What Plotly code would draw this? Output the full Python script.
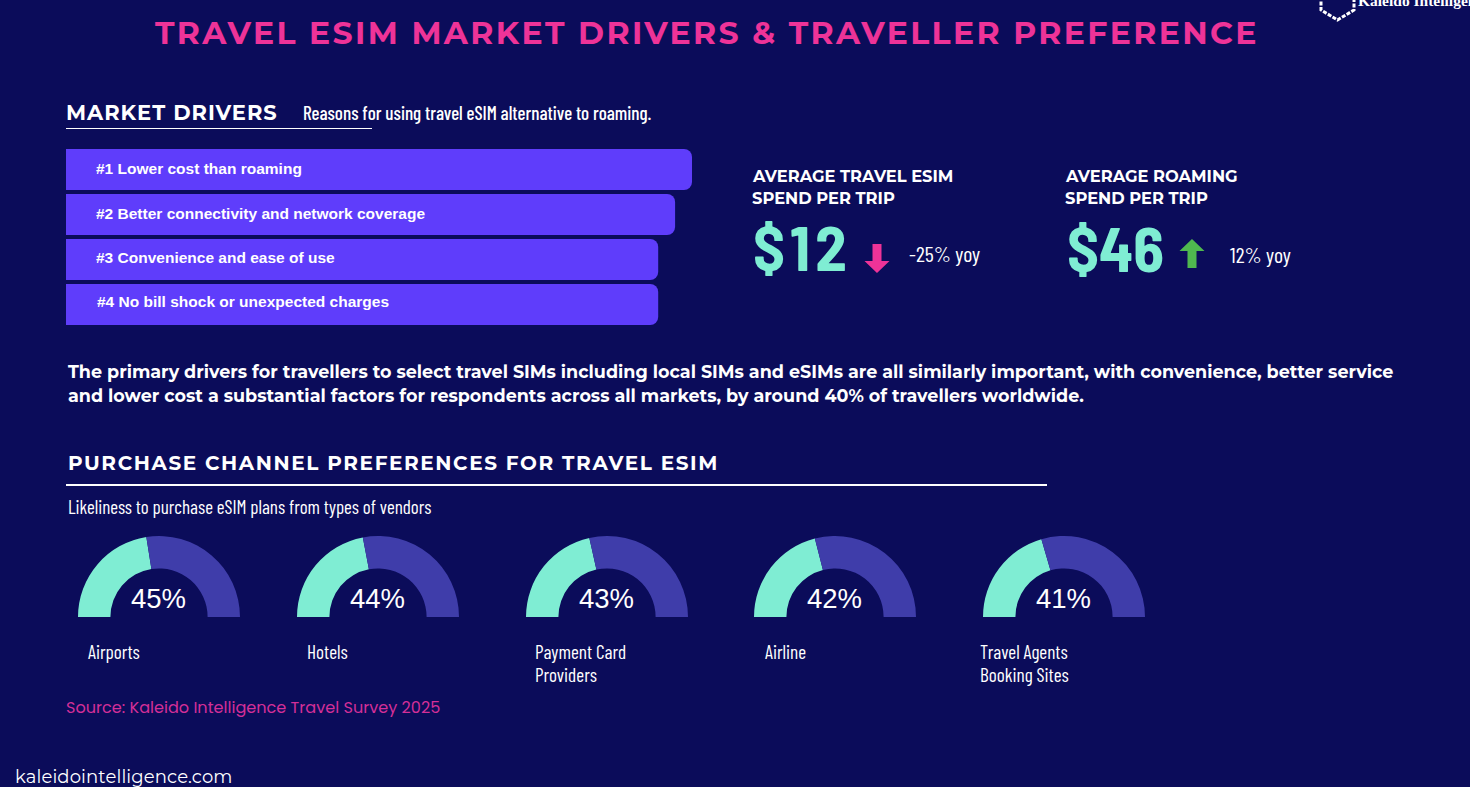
import plotly.graph_objects as go

W, H = 1470, 787
BG = "#0B0C5A"
TEAL = "#7FEDD3"
INDIGO = "#3F3DAA"
VIOLET = "#5F3DFB"
PINK = "#EE3398"
SOURCE = "#D42F98"
GREEN = "#4FB84F"
WHITE = "#FFFFFF"

drivers = ["#1 Lower cost than roaming", "#2 Better connectivity and network coverage",
           "#3 Convenience and ease of use", "#4 No bill shock or unexpected charges"]
driver_scores = [100, 97.3, 94.6, 94.6]
channels = ["Airports", "Hotels", "Payment Card<br>Providers", "Airline", "Travel Agents<br>Booking Sites"]
channel_pct = [45, 44, 43, 42, 41]
esim_spend = 12
esim_yoy = -25
roaming_spend = 46
roaming_yoy = 12


def X(px):
    return px / W


def Y(py):
    return 1 - py / H


HEAD = "Montserrat, Inter, sans-serif"
COND = "Barlow Condensed, Liberation Sans Narrow, Liberation Sans, sans-serif"
BIG = "Barlow Semi Condensed, Barlow, Liberation Sans, sans-serif"
SANS = "Liberation Sans, Arial, sans-serif"
POP = "Poppins, Open Sans, sans-serif"

fig = go.Figure()

fig.add_trace(go.Bar(
    y=drivers, x=driver_scores, orientation="h", marker=dict(color=VIOLET, line_width=0),
    hoverinfo="skip", showlegend=False, xaxis="x", yaxis="y",
))

annotations = []
spacing = {}


def text(px, py, s, size, color=WHITE, family=HEAD, weight=400, anchor="left", track=0):
    annotations.append(dict(
        x=X(px - 2 if anchor == "left" else px), y=Y(py), xref="paper", yref="paper", text=s, showarrow=False,
        xanchor=anchor, yanchor="middle", align="left",
        font=dict(size=size, color=color, family=family, weight=weight),
    ))
    if track:
        spacing[s.replace("&amp;", "&")] = track


text(155, 33, "TRAVEL ESIM MARKET DRIVERS &amp; TRAVELLER PREFERENCE", 31.5, PINK, weight=700, track=2.35)
text(66, 112, "MARKET DRIVERS", 21, weight=700, track=1)
text(303, 112, "Reasons for using travel eSIM alternative to roaming.", 19, family=COND, weight=500)

driver_x = [96, 96, 96, 97]
driver_y = [168.5, 213, 257.5, 301.5]
for name, dx, dy in zip(drivers, driver_x, driver_y):
    text(dx, dy, name, 15.5, family=SANS, weight=700)

text(752, 176, "AVERAGE TRAVEL ESIM", 16.3, weight=700)
text(752, 198, "SPEND PER TRIP", 16.3, weight=700)
text(1065, 176, "AVERAGE ROAMING", 16.3, weight=700)
text(1065, 198, "SPEND PER TRIP", 16.3, weight=700)

text(753, 246, f"${esim_spend}", 63, TEAL, family=BIG, weight=700, track=5)
text(1067, 247, f"${roaming_spend}", 63, TEAL, family=BIG, weight=700)
text(909, 253, f"{esim_yoy}% yoy", 22, family=COND)
text(1230, 254, f"{roaming_yoy}% yoy", 22, family=COND)

text(68, 372, "The primary drivers for travellers to select travel SIMs including local SIMs and eSIMs are all similarly important, with convenience, better service", 17.55, weight=700)
text(68, 395.5, "and lower cost a substantial factors for respondents across all markets, by around 40% of travellers worldwide.", 17.55, weight=700)

text(68, 463, "PURCHASE CHANNEL PREFERENCES FOR TRAVEL ESIM", 20, weight=700, track=1.6)
text(68, 507, "Likeliness to purchase eSIM plans from types of vendors", 19.1, family=COND)

centers = [159, 378, 607, 835, 1064]
label_x = [88, 307, 535, 765, 980]
R = 81
for name, pct, cx, lx in zip(channels, channel_pct, centers, label_x):
    fig.add_trace(go.Pie(
        values=[pct, 100 - pct, 100], sort=False, direction="clockwise", rotation=270,
        hole=0.6, textinfo="none", hoverinfo="skip", showlegend=False,
        marker=dict(colors=[TEAL, INDIGO, "rgba(0,0,0,0)"], line=dict(width=0)),
        domain=dict(x=[X(cx - R), X(cx + R)], y=[Y(617 + R), Y(617 - R)]),
    ))
    text(cx - 1, 598, f"{pct}%", 27.5, family=SANS, anchor="center")
    for i, part in enumerate(name.split("<br>")):
        text(lx, 651 + 23 * i, part, 19.3, family=COND, weight=400)

text(66, 707, "Source: Kaleido Intelligence Travel Survey 2025", 16.1, SOURCE, family=POP)
text(15, 776.5, "kaleidointelligence.com", 18, family=HEAD, weight=400, track=0.12)
text(1358, 0, "Kaleido Intelligence", 15.5, family="Liberation Serif, serif", weight=700)


def path(points):
    return "M " + " L ".join(f"{X(a):.5f},{Y(b):.5f}" for a, b in points)


def arrow(cx, tail, tip):
    d = 1 if tip > tail else -1
    neck = tip - d * 12
    return path([(cx - 4.5, tail), (cx + 4.5, tail), (cx + 4.5, neck), (cx + 12.5, neck), (cx, tip),
                 (cx - 12.5, neck), (cx - 4.5, neck)]) + " Z"


shapes = [
    dict(type="line", xref="paper", yref="paper", x0=X(66), x1=X(372), y0=Y(128.5), y1=Y(128.5),
         line=dict(color=WHITE, width=1)),
    dict(type="line", xref="paper", yref="paper", x0=X(66), x1=X(1047), y0=Y(485), y1=Y(485),
         line=dict(color=WHITE, width=2)),
    dict(type="path", xref="paper", yref="paper", path=arrow(877, 244, 273), fillcolor=PINK, line_width=0),
    dict(type="path", xref="paper", yref="paper", path=arrow(1192, 268, 239), fillcolor=GREEN, line_width=0),
    dict(type="path", xref="paper", yref="paper",
         path=path([(1321, -4), (1321, 10), (1337.5, 20), (1354, 10), (1354, -4)]),
         line=dict(color=WHITE, width=3, dash="4px,1.5px")),
]

fig.update_layout(
    width=W, height=H, autosize=False,
    margin=dict(l=0, r=0, t=0, b=0),
    paper_bgcolor=BG, plot_bgcolor=BG,
    barcornerradius=8, bargap=0.09,
    xaxis=dict(domain=[X(66), X(692)], range=[0, 100], visible=False, fixedrange=True),
    yaxis=dict(domain=[Y(327), Y(147)], autorange="reversed", visible=False, fixedrange=True),
    annotations=annotations, shapes=shapes,
)

js_spacing = "{" + ",".join(f'"{k}":{v}' for k, v in spacing.items()) + "}"
post = (
    "document.body.style.margin='0';document.body.style.overflow='hidden';"
    f"var sp={js_spacing};"
    "document.querySelectorAll('.annotation-text').forEach(function(t){"
    "var v=sp[t.textContent];if(v){t.style.letterSpacing=v+'px';}});"
)
fig.write_html("out.html", post_script=post, config={"displayModeBar": False})
